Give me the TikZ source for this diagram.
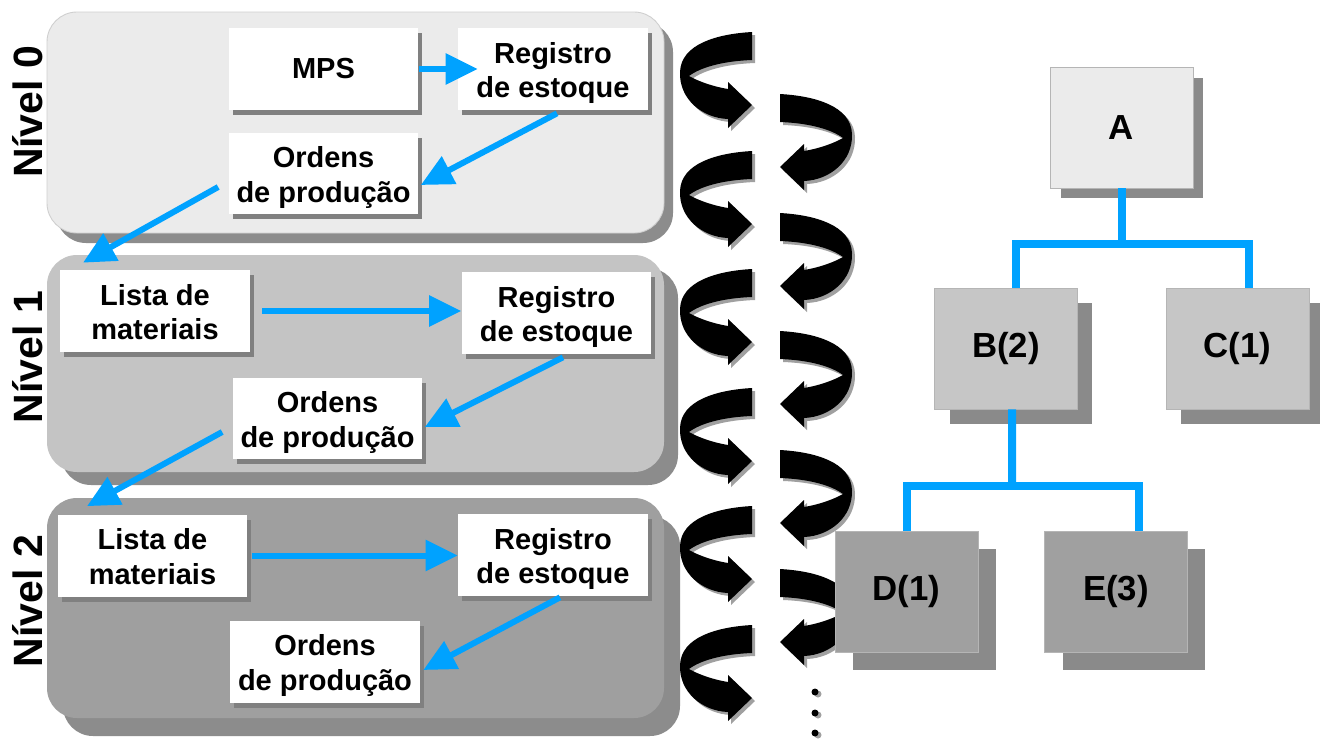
\documentclass[tikz,border=0pt]{standalone}
\usepackage{fontspec}
\setmainfont{Liberation Sans}
\usetikzlibrary{arrows.meta,shadows}

\definecolor{flowblue}{RGB}{0,162,255}
\definecolor{panelA}{HTML}{EBEBEB}
\definecolor{panelB}{HTML}{C4C4C4}
\definecolor{panelC}{HTML}{9F9F9F}
\definecolor{panelshade}{HTML}{8C8C8C}
\definecolor{paneledge}{HTML}{CFCFCF}
\definecolor{boxshade}{HTML}{808080}
\definecolor{treeA}{HTML}{EBEBEB}
\definecolor{treeB}{HTML}{C6C6C6}
\definecolor{treeC}{HTML}{A0A0A0}
\definecolor{treeshade}{HTML}{8A8A8A}
\definecolor{treeedge}{HTML}{B5B5B5}
\definecolor{curlshade}{HTML}{A0A0A0}

\newcommand\boxfont{\fontsize{16.5}{19.9}\selectfont\bfseries}
\newcommand\treefont{\fontsize{19.8}{23}\selectfont\bfseries}
\newcommand\levelfont{\fontsize{23.3}{28}\selectfont\bfseries}
% two centred lines, set a little low in their box
\newcommand\duo[2]{\raisebox{-0.09cm}[\height][\depth]{\begin{tabular}{@{}c@{}}#1\\#2\end{tabular}}}

% twisted ribbon arrow: #1,#2 = tip position, #3 = 1 (points right) or -1 (points left)
\newcommand\curl[3]{%
  \foreach \cc/\dd in {curlshade/3, black/0}{%
    \fill[\cc, shift={(#1+\dd,#2+\dd)}, xscale=#3]
      (0,-73) .. controls (-35,-71) and (-71,-61) .. (-72,-33)
      .. controls (-73,-6) and (-50,13) .. (-24,14)
      -- (-24,23) -- (0,0) -- (-24,-23) -- (-24,-16)
      .. controls (-42,-19) and (-56,-25) .. (-63,-29)
      .. controls (-51,-38) and (-28,-44) .. (0,-45) -- cycle;
  }%
}

\begin{document}
\begin{tikzpicture}[
  x=0.02cm, y=-0.02cm,
  wbox/.style={fill=white, minimum width=3.8cm, minimum height=1.64cm,
    inner sep=0pt, font=\boxfont,
    general shadow={fill=boxshade, shadow xshift=0.08cm, shadow yshift=-0.1cm}},
  tbox/.style={draw=treeedge, line width=0.5pt, minimum width=2.86cm,
    minimum height=2.42cm, inner sep=0pt, font=\treefont,
    general shadow={fill=treeshade, draw=none, shadow xshift=#1, shadow yshift=-#1}},
  level/.style={font=\levelfont, rotate=90, anchor=base, inner sep=0pt},
  flow/.style={draw=flowblue, line width=0.12cm,
    -{Triangle[length=0.64cm,width=0.6cm]}},
  treeline/.style={draw=flowblue, line width=0.16cm},
]
\fill[white] (0,0) rectangle (1320,738);
\useasboundingbox (0,0) rectangle (1320,738);

% level panels
\fill[panelshade, rounded corners=0.6cm] (56,22) rectangle (673,243);
\filldraw[fill=panelA, draw=paneledge, line width=0.5pt, rounded corners=0.6cm] (47,12) rectangle (664,233);
\fill[panelshade, rounded corners=0.6cm] (61,268) rectangle (678,485);
\fill[panelB, rounded corners=0.6cm] (47,255) rectangle (664,472);
\fill[panelshade, rounded corners=0.6cm] (63,516) rectangle (680,736);
\fill[panelC, rounded corners=0.6cm] (47,498) rectangle (664,718);

% level labels
\node[level] (n0) at (42,112) {Nível 0};
\node[level] (n1) at (42,357) {Nível 1};
\node[level] (n2) at (42,601) {Nível 2};

% level 0
\node[wbox] (mps) at (323.5,69) {MPS};
\node[wbox] (reg0) at (553,69) {\duo{Registro}{de estoque}};
\node[wbox] (ord0) at (323.5,173.5) {\duo{Ordens}{de produção}};
% level 1
\node[wbox] (lst1) at (155,311) {\duo{Lista de}{materiais}};
\node[wbox] (reg1) at (556.5,313) {\duo{Registro}{de estoque}};
\node[wbox] (ord1) at (327.5,418.5) {\duo{Ordens}{de produção}};
% level 2
\node[wbox] (lst2) at (152.5,555.5) {\duo{Lista de}{materiais}};
\node[wbox] (reg2) at (553,555) {\duo{Registro}{de estoque}};
\node[wbox] (ord2) at (325,661.5) {\duo{Ordens}{de produção}};

% flow between the records
\draw[flow] (mps.east) -- ([xshift=0.4cm]reg0.west);
\draw[flow] ([xshift=0.08cm,yshift=-0.06cm]reg0.south) -- ([xshift=0.04cm,yshift=-0.23cm]ord0.east);
\draw[flow] ([xshift=-0.2cm,yshift=-0.27cm]ord0.west) -- ([xshift=-1.44cm,yshift=0.14cm]lst1.north);
\draw[flow] ([xshift=0.24cm]lst1.east) -- (lst1.east -| reg1.west);
\draw[flow] ([xshift=0.13cm,yshift=-0.06cm]reg1.south) -- ([xshift=0.04cm,yshift=-0.17cm]ord1.east);
\draw[flow] ([xshift=-0.2cm,yshift=-0.27cm]ord1.west) -- ([xshift=-1.31cm,yshift=0.16cm]lst2.north);
\draw[flow] ([xshift=0.08cm]lst2.east) -- (lst2.east -| reg2.west);
\draw[flow] ([xshift=0.14cm,yshift=-0.02cm]reg2.south) -- ([xshift=0.06cm,yshift=-0.17cm]ord2.east);

% spiral of twisted arrows
\foreach \ty in {105,224,342,461,579,698} { \curl{752}{\ty}{1} }
\foreach \ty in {167,286,404,523,642} { \curl{780}{\ty}{-1} }

% continuation dots
\foreach \yy in {692,713,733} {
  \fill[curlshade] (818,\yy+2) circle (0.07cm);
  \fill[black] (815,\yy) circle (0.07cm);
}

% product structure tree
\node[tbox=0.21cm, fill=treeA] (A) at (1121.5,127.5) {A};
\node[tbox=0.3cm, fill=treeB] (B) at (1006,348.5) {B(2)};
\node[tbox=0.3cm, fill=treeB] (C) at (1237.5,348.5) {C(1)};
\node[tbox=0.36cm, fill=treeC] (D) at (906.5,591.5) {D(1)};
\node[tbox=0.36cm, fill=treeC] (E) at (1116,591.5) {E(3)};

\coordinate (busA) at (1121.5,244);
\draw[treeline] (A.south) -- (busA);
\draw[treeline] ([xshift=0.2cm]B.north) |- (busA) -| ([xshift=0.23cm]C.north);
\coordinate (busB) at (1012,486);
\draw[treeline] ([xshift=0.12cm]B.south) -- (busB);
\draw[treeline] (D.north) |- (busB) -| ([xshift=0.46cm]E.north);
\end{tikzpicture}
\end{document}
